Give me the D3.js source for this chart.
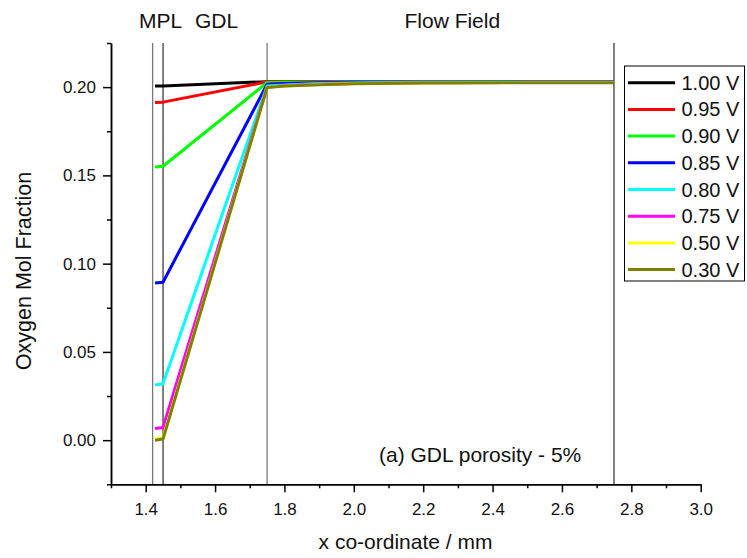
<!DOCTYPE html>
<html><head><meta charset="utf-8">
<script src="https://cdn.jsdelivr.net/npm/d3@7"></script>
<style>body{margin:0;background:#fff}svg{display:block}text{font-family:"Liberation Sans",Arial,sans-serif}</style>
</head><body><svg id="c" width="747" height="558"></svg>
<script>
const xs = [1.427, 1.45, 1.75, 1.8, 1.9, 2.0, 2.2, 2.5, 2.75];
const seriesNames = ["1.00 V","0.95 V","0.90 V","0.85 V","0.80 V","0.75 V","0.50 V","0.30 V"];
const seriesColors = ["#000000","#ff0000","#00ff00","#0000ff","#00ffff","#ff00ff","#ffff00","#808000"];
const v100 = [0.2006,0.2007,0.2031,0.2031,0.2031,0.2031,0.2031,0.2031,0.2031];
const v095 = [0.1913,0.1915,0.2030,0.2030,0.2030,0.2030,0.2030,0.2030,0.2030];
const v090 = [0.1547,0.1552,0.2026,0.2027,0.2028,0.2029,0.2030,0.2030,0.2030];
const v085 = [0.0890,0.0895,0.2016,0.2020,0.2025,0.2027,0.2029,0.2029,0.2029];
const v080 = [0.0313,0.0320,0.2006,0.2012,0.2020,0.2024,0.2027,0.2028,0.2028];
const v075 = [0.0066,0.0072,0.2000,0.2008,0.2016,0.2021,0.2025,0.2027,0.2027];
const v050 = [0.0008,0.0014,0.1999,0.2007,0.2015,0.2020,0.2024,0.2026,0.2026];
const v030 = [0.0000,0.0006,0.1998,0.2006,0.2014,0.2019,0.2023,0.2025,0.2025];
const seriesValues = [v100,v095,v090,v085,v080,v075,v050,v030];
const regionLines = [1.42, 1.45, 1.75, 2.75];
const regionColors = ["#777777","#000000","#777777","#000000"];
const regionLabels = [{t:"MPL",x:1.381},{t:"GDL",x:1.542},{t:"Flow Field",x:2.146}];
const xMajor = [1.4,1.6,1.8,2.0,2.2,2.4,2.6,2.8,3.0];
const xMinor = [1.3,1.5,1.7,1.9,2.1,2.3,2.5,2.7,2.9];
const yMajor = [0.00,0.05,0.10,0.15,0.20];
const yMinor = [-0.025,0.025,0.075,0.125,0.175,0.225];

const svg = d3.select("#c");
const x = d3.scaleLinear().domain([1.3,3.0]).range([111,700.7]);
const y = d3.scaleLinear().domain([-0.025,0.225]).range([484.3,43]);

// region lines
svg.append("g").selectAll("line").data(regionLines).join("line")
  .attr("x1",d=>x(d)).attr("x2",d=>x(d)).attr("y1",y(0.225)).attr("y2",y(-0.025))
  .attr("stroke",(d,i)=>regionColors[i]).attr("stroke-width",(d,i)=>i%2?1:1.3);

svg.append("g").selectAll("text").data(regionLabels).join("text")
  .attr("x",d=>x(d.x)).attr("y",28).attr("font-size",21).attr("fill","#111").text(d=>d.t);

// series
const line = d3.line().x((d,i)=>x(xs[i])).y(d=>y(d));
svg.append("g").selectAll("path").data(seriesValues).join("path")
  .attr("d",d=>line(d)).attr("fill","none")
  .attr("stroke",(d,i)=>seriesColors[i]).attr("stroke-width",3).attr("stroke-linejoin","round");

// axes
const gx = svg.append("g").attr("transform",`translate(0,${y(-0.025)})`);
gx.call(d3.axisBottom(x).tickValues(xMajor).tickFormat(d3.format(".1f")).tickSize(8).tickSizeOuter(0).tickPadding(11));
const gxm = svg.append("g").attr("transform",`translate(0,${y(-0.025)})`);
gxm.call(d3.axisBottom(x).tickValues(xMinor).tickFormat("").tickSize(4).tickSizeOuter(0));
const gy = svg.append("g").attr("transform",`translate(${x(1.3)},0)`);
gy.call(d3.axisLeft(y).tickValues(yMajor).tickFormat(d3.format(".2f")).tickSize(8).tickSizeOuter(0).tickPadding(7));
const gym = svg.append("g").attr("transform",`translate(${x(1.3)},0)`);
gym.call(d3.axisLeft(y).tickValues(yMinor).tickFormat("").tickSize(4).tickSizeOuter(0));
svg.selectAll(".domain").attr("stroke","#000").attr("stroke-width",1.5);
svg.selectAll(".tick line").attr("stroke","#000").attr("stroke-width",1.5);
svg.selectAll(".tick text").attr("font-size",17).attr("fill","#111").attr("font-family","Liberation Sans, Arial, sans-serif");

// titles
svg.append("text").attr("x",405.5).attr("y",549).attr("text-anchor","middle").attr("font-size",21).attr("fill","#111").text("x co-ordinate / mm");
svg.append("text").attr("transform","translate(31,271) rotate(-90)").attr("text-anchor","middle").attr("font-size",21.5).attr("fill","#111").text("Oxygen Mol Fraction");
svg.append("text").attr("x",379).attr("y",462).attr("font-size",21).attr("fill","#111").text("(a) GDL porosity - 5%");

// legend
const lg = svg.append("g");
lg.append("rect").attr("x",624.5).attr("y",66).attr("width",120).attr("height",215)
  .attr("fill","#fff").attr("stroke","#000").attr("stroke-width",1);
const rows = lg.selectAll("g.r").data(seriesNames).join("g").attr("class","r")
  .attr("transform",(d,i)=>`translate(0,${82.7+i*26.7})`);
rows.append("line").attr("x1",628).attr("x2",675).attr("y1",0).attr("y2",0)
  .attr("stroke",(d,i)=>seriesColors[i]).attr("stroke-width",3);
rows.append("text").attr("x",681.5).attr("y",7).attr("font-size",20).attr("fill","#111").text(d=>d);
</script></body></html>
